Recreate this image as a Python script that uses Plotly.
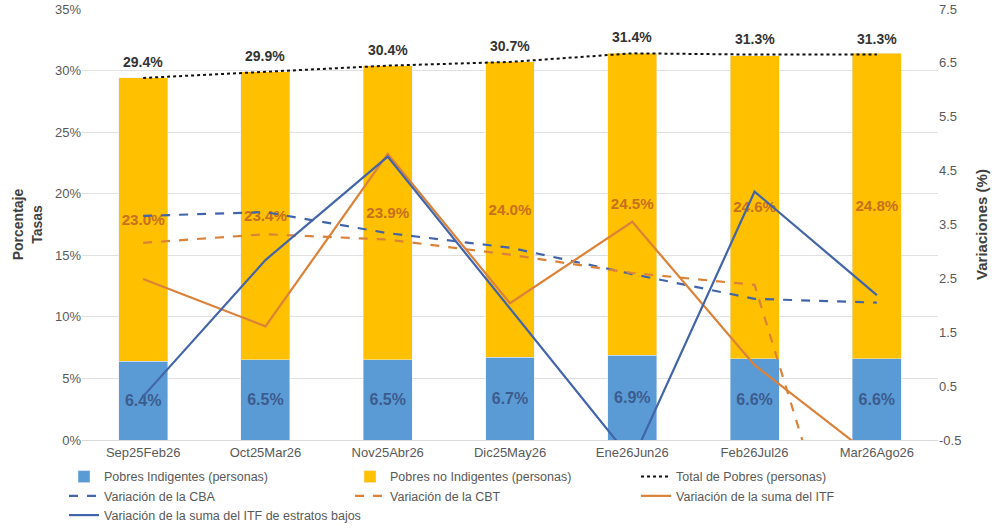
import plotly.graph_objects as go

periodos = ["Sep25Feb26", "Oct25Mar26", "Nov25Abr26", "Dic25May26",
            "Ene26Jun26", "Feb26Jul26", "Mar26Ago26"]

indigentes = [6.4, 6.5, 6.5, 6.7, 6.9, 6.6, 6.6]
no_indigentes = [23.0, 23.4, 23.9, 24.0, 24.5, 24.6, 24.8]
total_pobres = [29.4, 29.9, 30.4, 30.7, 31.4, 31.3, 31.3]

var_cba = [3.66, 3.73, 3.34, 3.07, 2.58, 2.12, 2.05]
var_cbt = [3.16, 3.32, 3.22, 2.94, 2.60, 2.38, -5.0]
var_itf = [2.49, 1.61, 4.81, 2.04, 3.55, 0.89, -0.87]
var_itf_bajos = [0.31, 2.84, 4.76, 1.95, -0.88, 4.11, 2.19]

ticks_var = [-0.5, 0.5, 1.5, 2.5, 3.5, 4.5, 5.5, 6.5, 7.5]

AZUL_BAR = "#5B9BD5"
AMARILLO = "#FFC000"
AZUL_LINEA = "#4264A8"
NARANJA = "#DB8238"
GRIS = "#595959"
FONT = "Liberation Sans, Arial, sans-serif"

fig = go.Figure()

fig.add_trace(go.Bar(
    x=periodos, y=indigentes, name="Pobres Indigentes (personas)",
    marker_color=AZUL_BAR, width=0.4,
    texttemplate="%{y:.1f}%", textposition="inside", insidetextanchor="middle",
    textangle=0, textfont=dict(size=16, color="#3B5C8E", family=FONT, weight="bold"),
))
fig.add_trace(go.Bar(
    x=periodos, y=no_indigentes, name="Pobres no Indigentes (personas)",
    marker_color=AMARILLO, width=0.4,
    texttemplate="%{y:.1f}%", textposition="inside", insidetextanchor="middle",
    textangle=0, textfont=dict(size=16, color="#C8701E", family=FONT, weight="bold"),
))
fig.add_trace(go.Scatter(
    x=periodos, y=total_pobres, name="Total de Pobres (personas)",
    mode="lines", line=dict(color="#111111", width=2, dash="dot"),
))
fig.add_trace(go.Scatter(
    x=periodos, y=var_cba, name="Variación de la CBA", yaxis="y2",
    mode="lines", line=dict(color=AZUL_LINEA, width=2.2, dash="dash"),
))
fig.add_trace(go.Scatter(
    x=periodos, y=var_cbt, name="Variación de la CBT", yaxis="y2",
    mode="lines", line=dict(color=NARANJA, width=2.2, dash="dash"),
))
fig.add_trace(go.Scatter(
    x=periodos, y=var_itf, name="Variación de la suma del ITF", yaxis="y2",
    mode="lines", line=dict(color=NARANJA, width=2.2),
))
fig.add_trace(go.Scatter(
    x=periodos, y=var_itf_bajos, name="Variación de la suma del ITF de estratos bajos",
    yaxis="y2", mode="lines", line=dict(color=AZUL_LINEA, width=2.2),
))

# total labels sit a bit above the dotted line
for p, t in zip(periodos, total_pobres):
    fig.add_annotation(x=p, y=t, xref="x", yref="y", text=f"{t:.1f}%",
                       showarrow=False, yshift=16,
                       font=dict(size=14, color="#333333", family=FONT, weight="bold"))

fig.update_layout(
    width=1000, height=528,
    barmode="stack",
    plot_bgcolor="white", paper_bgcolor="white",
    font=dict(family=FONT, color=GRIS, size=13),
    margin=dict(l=82, r=62, t=9, b=88, autoexpand=False),
    xaxis=dict(showgrid=False, showline=True, linecolor="#D9D9D9",
               tickfont=dict(size=13, color=GRIS), ticks="", automargin=False),
    yaxis=dict(range=[0, 35], dtick=5, ticksuffix="%", showgrid=True,
               gridcolor="#E0E0E0", zeroline=False, automargin=False,
               ticklabeloverflow="allow", tickfont=dict(size=13, color=GRIS),
               title=dict(text="Porcentaje<br>Tasas", standoff=9,
                          font=dict(size=14, color="#404040", weight="bold"))),
    yaxis2=dict(range=[-0.5, 7.5], tickvals=ticks_var,
                ticktext=[f"{v:.1f}" for v in ticks_var],
                overlaying="y", side="right", showgrid=False, zeroline=False,
                automargin=False, ticklabeloverflow="allow",
                tickfont=dict(size=13, color=GRIS),
                title=dict(text="Variaciones (%)", standoff=16,
                           font=dict(size=15, color="#404040", weight="bold"))),
    showlegend=True,
    legend=dict(orientation="h", x=-0.021, xanchor="left", y=-0.051, yanchor="top",
                entrywidth=241, entrywidthmode="pixels",
                font=dict(size=12.5, color=GRIS), traceorder="normal"),
)

# drop the browser's default body margin so the 1000x528 figure fills the window
fig.write_html("out.html", config={"displayModeBar": False},
               post_script="document.body.style.margin = '0px';")
